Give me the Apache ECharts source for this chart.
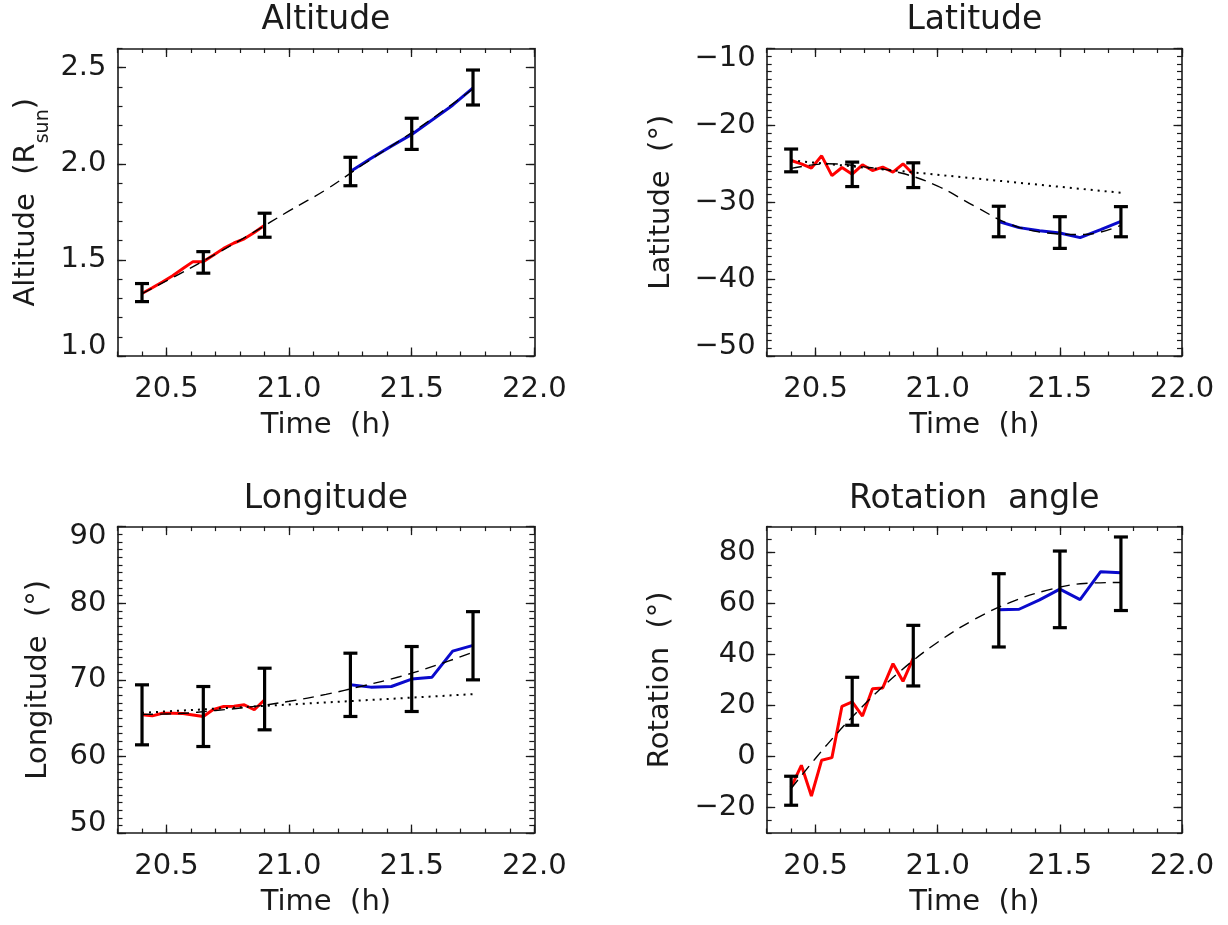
<!DOCTYPE html>
<html>
<head>
<meta charset="utf-8">
<script src="https://cdn.jsdelivr.net/npm/echarts@6/dist/echarts.min.js"></script>
<style>
  html, body { margin: 0; padding: 0; background: #ffffff; }
  #chart { width: 1228px; height: 925px; }
</style>
</head>
<body>
<div id="chart"></div>
<script>
// ---- sample times (hours) ----
const redTime   = [20.400, 20.442, 20.483, 20.525, 20.567, 20.608, 20.650, 20.692, 20.733, 20.775, 20.817, 20.858, 20.900];
const blueTime  = [21.250, 21.333, 21.417, 21.500, 21.583, 21.667, 21.750];
const errTime   = [20.40, 20.65, 20.90, 21.25, 21.50, 21.75];
const fitTime   = [20.40, 20.55, 20.70, 20.85, 21.00, 21.15, 21.30, 21.45, 21.60, 21.75];
const trendTime = [20.40, 21.76];
const timeTicks = [20.5, 21.0, 21.5, 22.0];

// ---- altitude (R_sun) ----
const altRed     = [1.325, 1.355, 1.385, 1.418, 1.455, 1.491, 1.491, 1.525, 1.560, 1.588, 1.610, 1.643, 1.680];
const altBlue    = [1.960, 2.028, 2.092, 2.153, 2.228, 2.305, 2.395];
const altErrLow  = [1.283, 1.431, 1.618, 1.886, 2.075, 2.306];
const altErrHigh = [1.377, 1.543, 1.743, 2.034, 2.237, 2.488];
const altFit     = [1.325, 1.425, 1.530, 1.640, 1.755, 1.865, 1.995, 2.120, 2.250, 2.390];
const altTicks   = [1.0, 1.5, 2.0, 2.5];

// ---- latitude (deg) ----
const latRed     = [-24.57, -25.00, -25.56, -23.96, -26.53, -25.48, -26.35, -25.13, -25.87, -25.44, -26.09, -25.00, -26.35];
const latBlue    = [-32.50, -33.30, -33.70, -34.00, -34.60, -33.55, -32.50];
const latErrLow  = [-26.04, -27.96, -28.09, -34.49, -36.00, -34.49];
const latErrHigh = [-23.08, -24.78, -24.87, -30.52, -31.88, -30.57];
const latFit     = [-25.6, -25.0, -25.4, -26.2, -27.9, -30.5, -32.9, -34.0, -34.2, -33.0];
const latTrend   = [-24.55, -28.80];
const latTicks   = [-50, -40, -30, -20, -10];

// ---- longitude (deg) ----
const lonRed     = [65.45, 65.30, 65.65, 65.65, 65.60, 65.42, 65.22, 66.15, 66.52, 66.55, 66.74, 66.10, 67.40];
const lonBlue    = [69.35, 69.05, 69.13, 70.10, 70.35, 73.75, 74.50];
const lonErrLow  = [61.52, 61.30, 63.48, 65.22, 65.87, 70.00];
const lonErrHigh = [69.35, 69.13, 71.52, 73.48, 74.35, 78.90];
const lonFit     = [65.5, 65.6, 66.0, 66.5, 67.2, 68.1, 69.2, 70.4, 71.9, 73.6];
const lonTrend   = [65.70, 68.15];
const lonTicks   = [50, 60, 70, 80, 90];

// ---- rotation angle (deg) ----
const rotRed     = [-12.0, -3.5, -15.5, -1.5, -0.5, 19.6, 21.3, 15.8, 26.5, 26.8, 36.3, 29.4, 38.5];
const rotBlue    = [57.4, 57.6, 61.3, 65.5, 61.4, 72.3, 71.9];
const rotErrLow  = [-19.13, 12.18, 27.57, 42.83, 50.39, 57.10];
const rotErrHigh = [-7.78, 30.96, 51.30, 71.52, 80.39, 85.90];
const rotFit     = [-12.6, 4.9, 20.3, 33.6, 44.7, 53.6, 60.4, 65.1, 67.7, 68.1];
const rotTicks   = [-20, 0, 20, 40, 60, 80];

// ---- panel layout ----
const FONT = 'DejaVu Sans';
const INK = '#1a1a1a';
const panels = [
  { title: 'Altitude', yName: 'Altitude  (R{s|sun})', yMin: 1.0, yMax: 2.6, minorStep: 0.1, ticks: altTicks, digits: 1,
    red: altRed, blue: altBlue, fit: altFit, trend: null, lo: altErrLow, hi: altErrHigh,
    box: { left: 117.5, top: 48.5, width: 416.8, height: 307.5 }, nameGap: 65, alignMin: 'bottom', alignMax: null },
  { title: 'Latitude', yName: 'Latitude  (°)', yMin: -50, yMax: -10, minorStep: 1, ticks: latTicks, digits: 0,
    red: latRed, blue: latBlue, fit: latFit, trend: latTrend, lo: latErrLow, hi: latErrHigh,
    box: { left: 766.7, top: 48.5, width: 415.3, height: 307.5 }, nameGap: 91, alignMin: 'bottom', alignMax: 'top' },
  { title: 'Longitude', yName: 'Longitude  (°)', yMin: 50, yMax: 90, minorStep: 1, ticks: lonTicks, digits: 0,
    red: lonRed, blue: lonBlue, fit: lonFit, trend: lonTrend, lo: lonErrLow, hi: lonErrHigh,
    box: { left: 117.5, top: 526.6, width: 416.8, height: 306.5 }, nameGap: 65, alignMin: 'bottom', alignMax: 'top' },
  { title: 'Rotation  angle', yName: 'Rotation  (°)', yMin: -30, yMax: 90, minorStep: 5, ticks: rotTicks, digits: 0,
    red: rotRed, blue: rotBlue, fit: rotFit, trend: null, lo: rotErrLow, hi: rotErrHigh,
    box: { left: 766.7, top: 526.5, width: 415.3, height: 306.5 }, nameGap: 92, alignMin: null, alignMax: null }
];

const zip = (xs, ys) => xs.map((x, i) => [x, ys[i]]);
const fmt = (v, d) => (v < 0 ? '\u2212' + Math.abs(v).toFixed(d) : v.toFixed(d));

const grids = [], xAxes = [], yAxes = [], series = [], titles = [];

const frameLine = { show: true, onZero: false, lineStyle: { color: INK, width: 1.6 } };
const noLine = { show: false, onZero: false };

panels.forEach((p, k) => {
  grids.push(Object.assign({ outerBoundsMode: 'none', containLabel: false }, p.box));

  titles.push({
    text: p.title,
    left: p.box.left + p.box.width / 2,
    top: p.box.top < 100 ? 4 : 483,
    textAlign: 'center',
    padding: 0,
    textStyle: { fontFamily: FONT, fontSize: 33, fontWeight: 'normal', color: INK }
  });

  const xBase = { gridIndex: k, type: 'value', min: 20.3, max: 22.0, splitLine: { show: false }, silent: true };
  // bottom: labelled major ticks
  xAxes.push(Object.assign({}, xBase, {
    position: 'bottom', axisLine: frameLine,
    axisTick: { show: true, inside: true, length: 8.5, customValues: timeTicks, lineStyle: { color: INK, width: 1.3 } },
    axisLabel: { show: true, customValues: timeTicks, formatter: v => fmt(v, 1), margin: 19,
                 fontFamily: FONT, fontSize: 29, color: INK },
    name: 'Time  (h)', nameLocation: 'middle', nameGap: 55,
    nameTextStyle: { fontFamily: FONT, fontSize: 29, color: INK }
  }));
  // bottom: minor ticks every 0.1 h
  xAxes.push(Object.assign({}, xBase, {
    position: 'bottom', interval: 0.1, axisLine: noLine,
    axisTick: { show: true, inside: true, length: 4.5, lineStyle: { color: INK, width: 1.2 } },
    axisLabel: { show: false }
  }));
  // top mirror
  xAxes.push(Object.assign({}, xBase, {
    position: 'top', axisLine: frameLine,
    axisTick: { show: true, inside: true, length: 8.5, customValues: timeTicks, lineStyle: { color: INK, width: 1.3 } },
    axisLabel: { show: false }
  }));
  xAxes.push(Object.assign({}, xBase, {
    position: 'top', interval: 0.1, axisLine: noLine,
    axisTick: { show: true, inside: true, length: 4.5, lineStyle: { color: INK, width: 1.2 } },
    axisLabel: { show: false }
  }));

  const yBase = { gridIndex: k, type: 'value', min: p.yMin, max: p.yMax, splitLine: { show: false }, silent: true };
  const yLabel = { show: true, customValues: p.ticks, formatter: v => fmt(v, p.digits), margin: 11,
                   fontFamily: FONT, fontSize: 29, lineHeight: 20, color: INK };
  if (p.alignMin) yLabel.verticalAlignMinLabel = p.alignMin;
  if (p.alignMax) yLabel.verticalAlignMaxLabel = p.alignMax;
  yAxes.push(Object.assign({}, yBase, {
    position: 'left', axisLine: frameLine,
    axisTick: { show: true, inside: true, length: 8.5, customValues: p.ticks, lineStyle: { color: INK, width: 1.3 } },
    axisLabel: yLabel,
    name: p.yName, nameLocation: 'middle', nameRotate: 90, nameGap: p.nameGap,
    nameTextStyle: { fontFamily: FONT, fontSize: 29, color: INK,
      rich: { s: { fontFamily: FONT, fontSize: 19, color: INK, padding: [33, 0, 0, 0], verticalAlign: 'bottom' } } }
  }));
  yAxes.push(Object.assign({}, yBase, {
    position: 'left', interval: p.minorStep, axisLine: noLine,
    axisTick: { show: true, inside: true, length: 5, lineStyle: { color: INK, width: 1.2 } },
    axisLabel: { show: false }
  }));
  yAxes.push(Object.assign({}, yBase, {
    position: 'right', axisLine: frameLine,
    axisTick: { show: true, inside: true, length: 8.5, customValues: p.ticks, lineStyle: { color: INK, width: 1.3 } },
    axisLabel: { show: false }
  }));
  yAxes.push(Object.assign({}, yBase, {
    position: 'right', interval: p.minorStep, axisLine: noLine,
    axisTick: { show: true, inside: true, length: 5, lineStyle: { color: INK, width: 1.2 } },
    axisLabel: { show: false }
  }));

  const ax = { xAxisIndex: 4 * k, yAxisIndex: 4 * k };

  series.push(Object.assign({ type: 'line', data: zip(redTime, p.red), showSymbol: false, z: 2,
    lineStyle: { color: '#ff0000', width: 3 } }, ax));
  series.push(Object.assign({ type: 'line', data: zip(blueTime, p.blue), showSymbol: false, z: 2,
    lineStyle: { color: '#0a0acc', width: 3 } }, ax));
  series.push(Object.assign({ type: 'line', data: zip(fitTime, p.fit), showSymbol: false, smooth: 0.4, z: 3,
    lineStyle: { color: '#000000', width: 1.4, type: [11, 7] } }, ax));
  if (p.trend) {
    series.push(Object.assign({ type: 'line', data: zip(trendTime, p.trend), showSymbol: false, z: 3,
      lineStyle: { color: '#000000', width: 2, type: [2, 5] } }, ax));
  }
  // uncertainty bars with caps
  series.push(Object.assign({
    type: 'custom', z: 5,
    data: errTime.map((t, i) => [t, p.lo[i], p.hi[i]]),
    encode: { x: 0, y: [1, 2] },
    renderItem: (params, api) => {
      const lo = api.coord([api.value(0), api.value(1)]);
      const hi = api.coord([api.value(0), api.value(2)]);
      const w = 7;
      const style = { stroke: '#000000', lineWidth: 3.2, fill: null };
      return {
        type: 'group',
        children: [
          { type: 'line', shape: { x1: lo[0], y1: lo[1], x2: hi[0], y2: hi[1] }, style },
          { type: 'line', shape: { x1: lo[0] - w, y1: lo[1], x2: lo[0] + w, y2: lo[1] }, style },
          { type: 'line', shape: { x1: hi[0] - w, y1: hi[1], x2: hi[0] + w, y2: hi[1] }, style }
        ]
      };
    }
  }, ax));
});

const chart = echarts.init(document.getElementById('chart'), null, { renderer: 'canvas' });
chart.setOption({
  backgroundColor: '#ffffff',
  animation: false,
  textStyle: { fontFamily: FONT },
  title: titles,
  grid: grids,
  xAxis: xAxes,
  yAxis: yAxes,
  series: series
});
</script>
</body>
</html>
